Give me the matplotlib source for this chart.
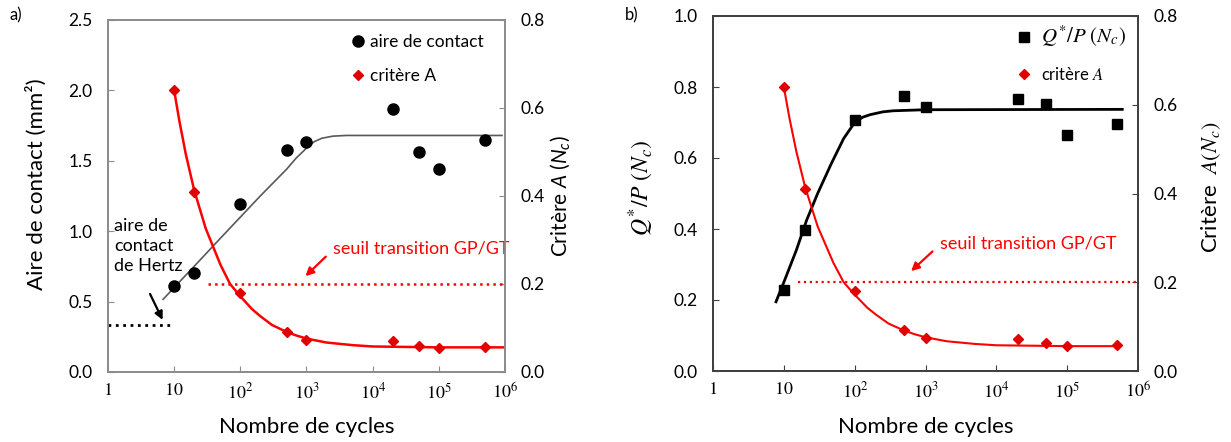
import matplotlib
matplotlib.use("Agg")
import matplotlib.pyplot as plt

plt.rcParams['font.family'] = ['Lato', 'DejaVu Sans']
plt.rcParams['mathtext.fontset'] = 'custom'
plt.rcParams['mathtext.rm'] = 'Lato'
plt.rcParams['mathtext.it'] = 'Lato:italic'
plt.rcParams['mathtext.bf'] = 'Lato:bold'

# ---------------- data ----------------
cycles = [10, 20, 100, 500, 1000, 2e4, 5e4, 1e5, 5e5]
aire_contact = [0.61, 0.70, 1.19, 1.58, 1.63, 1.87, 1.56, 1.44, 1.65]
critere_A_a = [0.640, 0.410, 0.179, 0.090, 0.073, 0.070, 0.058, 0.054, 0.056]
q_over_p = [0.229, 0.396, 0.708, 0.774, 0.744, 0.765, 0.753, 0.666, 0.697]
critere_A_b = [0.640, 0.410, 0.180, 0.092, 0.075, 0.071, 0.062, 0.056, 0.059]

# fitted trend curves
fit_aire_x = [6.8, 10, 20, 50, 100, 200, 500, 700, 1000, 1300, 1700, 2500, 4000, 1e4, 9e5]
fit_aire_y = [0.516, 0.60, 0.75, 0.95, 1.10, 1.25, 1.44, 1.52, 1.59, 1.635, 1.66, 1.675, 1.68, 1.68, 1.68]
fit_A_x = [10, 12, 15, 20, 30, 50, 70, 100, 150, 200, 300, 500, 700, 1000, 2000, 5000, 1e4, 1e5, 1e6]
fit_A_y = [0.640, 0.570, 0.495, 0.414, 0.326, 0.244, 0.200, 0.172, 0.143, 0.127, 0.107, 0.091,
           0.083, 0.076, 0.067, 0.061, 0.058, 0.056, 0.056]
fit_A_b_x = [10, 12, 15, 20, 30, 50, 70, 100, 150, 200, 300, 500, 700, 1000, 2000, 5000, 1e4, 1e5, 5.5e5]
fit_A_b_y = [0.640, 0.570, 0.495, 0.414, 0.326, 0.244, 0.200, 0.172, 0.143, 0.127, 0.107, 0.091,
             0.083, 0.076, 0.067, 0.061, 0.058, 0.056, 0.056]
fit_q_x = [7.75, 10, 15, 21, 30, 47, 70, 100, 130, 165, 250, 350, 1000, 6e5]
fit_q_y = [0.195, 0.25, 0.34, 0.425, 0.50, 0.585, 0.655, 0.700, 0.715, 0.722, 0.730, 0.733, 0.736, 0.737]

seuil = 0.2
seuil_x_a = [33, 1e6]
seuil_x_b = [15.8, 1e6]
hertz = 0.336
hertz_x = [1, 10]

xticks = [1, 10, 1e2, 1e3, 1e4, 1e5, 1e6]
xticklabels = [r'$1$', r'$10$', r'$10^{2}$', r'$10^{3}$', r'$10^{4}$', r'$10^{5}$', r'$10^{6}$']
yticks_a = [0.0, 0.5, 1.0, 1.5, 2.0, 2.5]
yticks_b = [0.0, 0.2, 0.4, 0.6, 0.8, 1.0]
yticks_A = [0.0, 0.2, 0.4, 0.6, 0.8]

W, H = 1231, 442
fig = plt.figure(figsize=(W / 100, H / 100), dpi=100)


def box(l, r, t, b):
    return [l / W, (H - b) / H, (r - l) / W, (b - t) / H]


RED = '#ff0000'


def style_axes(ax, ax2, spine_color):
    for a in (ax, ax2):
        for s in a.spines.values():
            s.set_color(spine_color)
            s.set_linewidth(1.3)
    ax.set_xscale('log')
    ax.set_xlim(1, 1e6)
    ax.set_xticks(xticks)
    ax.set_xticklabels(xticklabels)
    ax.xaxis.set_minor_locator(matplotlib.ticker.NullLocator())
    for lbl in ax.get_xticklabels():
        lbl.set_math_fontfamily('stix')
    ax.tick_params(axis='x', direction='in', length=4, color=spine_color, labelsize=13, pad=7)
    ax.tick_params(axis='y', direction='in', length=4, color=spine_color, labelsize=12.5, pad=11)
    ax2.tick_params(axis='y', direction='in', length=4, color=spine_color, labelsize=12.5, pad=11)
    ax.yaxis.set_major_formatter(matplotlib.ticker.FormatStrFormatter('%.1f'))
    ax2.yaxis.set_major_formatter(matplotlib.ticker.FormatStrFormatter('%.1f'))
    ax2.set_ylim(0, 0.8)
    ax2.set_yticks(yticks_A)


def place_label(axis, x, y):
    axis.set_label_coords(x, y)
    axis.label.set_va('center')
    axis.label.set_ha('center')


# ---------------- panel a ----------------
axa = fig.add_axes(box(108, 505, 20, 372))
axa2 = axa.twinx()
style_axes(axa, axa2, '#8c8c8c')
axa.set_ylim(0, 2.5)
axa.set_yticks(yticks_a)

axa.plot(fit_aire_x, fit_aire_y, color='#595959', lw=1.2, zorder=2)
axa.plot(hertz_x, [hertz, hertz], color='black', ls=':', lw=2, zorder=2)
h1, = axa.plot(cycles, aire_contact, 'o', color='black', ms=8, ls='none', zorder=3,
               label='aire de contact')
axa2.plot(fit_A_x, fit_A_y, color=RED, lw=1.8, zorder=2)
axa2.plot(seuil_x_a, [seuil, seuil], color=RED, ls=':', lw=1.8, zorder=2)
h2, = axa2.plot(cycles, critere_A_a, 'D', color='#e00000', ms=5, ls='none', zorder=3,
                label='critère A')

axa.text(1.25, 0.895, 'aire de\ncontact\nde Hertz', fontsize=13, va='center', ha='left',
         linespacing=1.3)
axa.annotate('', xy=(6.98, 0.352), xytext=(4.14, 0.572),
             arrowprops=dict(arrowstyle='-|>', color='black', lw=1.6, mutation_scale=12))
axa.text(2.5e3, 0.88, 'seuil transition GP/GT', fontsize=13, color=RED, va='center', ha='left')
axa.annotate('', xy=(900, 0.667), xytext=(2.1e3, 0.833),
             arrowprops=dict(arrowstyle='-|>', color=RED, lw=1.6, mutation_scale=12))

axa.set_ylabel('Aire de contact (mm²)', fontsize=16)
place_label(axa.yaxis, -0.181, 0.534)
axa2.set_ylabel(r'Critère $A$ $(N_c)$', fontsize=15)
place_label(axa2.yaxis, 1.139, 0.5)
axa.set_xlabel('Nombre de cycles', fontsize=16)
place_label(axa.xaxis, 0.5, -0.156)

lega = axa2.legend(handles=[h1, h2], loc='upper left', bbox_to_anchor=(350 / W, 1 - 34 / H),
                   bbox_transform=fig.transFigure, frameon=False, fontsize=12.5,
                   handlelength=0.9, handletextpad=0.25, labelspacing=1.05, borderpad=0,
                   borderaxespad=0)

# ---------------- panel b ----------------
axb = fig.add_axes(box(713, 1138, 16, 371))
axb2 = axb.twinx()
style_axes(axb, axb2, '#404040')
axb.set_ylim(0, 1.0)
axb.set_yticks(yticks_b)

axb.plot(fit_q_x, fit_q_y, color='black', lw=2, zorder=2)
h3, = axb.plot(cycles, q_over_p, 's', color='black', ms=7, ls='none', zorder=3,
               label=r'$Q^{*}/P\ (N_c)$')
axb2.plot(fit_A_b_x, fit_A_b_y, color=RED, lw=1.5, zorder=2)
axb2.plot(seuil_x_b, [seuil, seuil], color=RED, ls=':', lw=1.6, zorder=2)
h4, = axb2.plot(cycles, critere_A_b, 'D', color='#e00000', ms=5, ls='none', zorder=3,
                label=r'critère $A$')

axb.text(1.6e3, 0.359, 'seuil transition GP/GT', fontsize=13, color=RED, va='center', ha='left')
axb.annotate('', xy=(586, 0.276), xytext=(1.34e3, 0.342),
             arrowprops=dict(arrowstyle='-|>', color=RED, lw=1.6, mutation_scale=12))

ylb = axb.set_ylabel(r'$Q^{*}/P\ (N_c)$', fontsize=17)
ylb.set_math_fontfamily('stix')
place_label(axb.yaxis, -0.169, 0.515)
ylb2 = axb2.set_ylabel(r'Critère  $A(N_c)$', fontsize=16)
ylb2.set_math_fontfamily('stix')
place_label(axb2.yaxis, 1.172, 0.518)
axb.set_xlabel('Nombre de cycles', fontsize=16)
place_label(axb.xaxis, 0.5, -0.158)

legb = axb2.legend(handles=[h3, h4], loc='upper left', bbox_to_anchor=(1016 / W, 1 - 24 / H),
                   bbox_transform=fig.transFigure, frameon=False, fontsize=12,
                   handlelength=0.9, handletextpad=0.6, labelspacing=1.0, borderpad=0,
                   borderaxespad=0)
legb_texts = legb.get_texts()
for t in legb_texts:
    t.set_math_fontfamily('stix')
legb_texts[0].set_fontsize(15)

fig.text(10 / W, 1 - 15 / H, 'a)', fontsize=12, va='center', ha='left')
fig.text(625 / W, 1 - 15 / H, 'b)', fontsize=12, va='center', ha='left')

fig.savefig('out.png', dpi=100)
